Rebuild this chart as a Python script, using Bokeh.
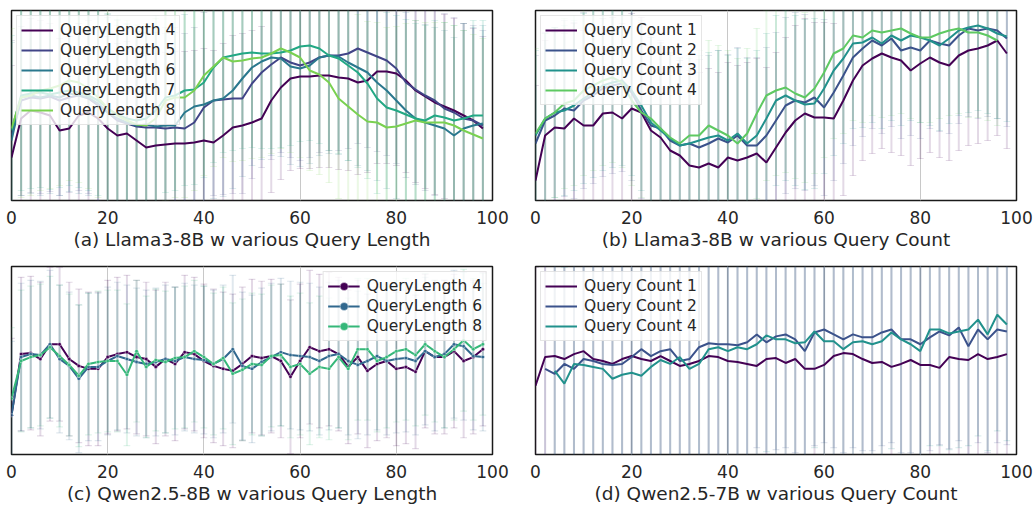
import numpy as np
from bokeh.plotting import figure
from bokeh.layouts import column, row
from bokeh.models import Range1d, FixedTicker, Legend, LegendItem, ColumnDataSource
from bokeh.embed import file_html
from bokeh.resources import INLINE

nan = float("nan")
steps = list(range(0, 100, 2))
x_ticks = [0, 20, 40, 60, 80, 100]

# ---------------- (a) Llama3-8B, query length ----------------
a_labels = ["QueryLength 4", "QueryLength 5", "QueryLength 6", "QueryLength 7", "QueryLength 8"]
a_ql4 = [43, 82, 90, 88, 85, 70, 72, 85, 88, 82, 72, 65, 67, 60, 53, 55, 56, 57, 57, 58,
         60, 58, 65, 73, 75, 78, 82, 100, 113, 122, 124, 124, 125, 125, 123, 122, 118, 120, 129, 129,
         127, 120, 110, 104, 98, 94, 90, 85, 80, 72]
a_ql5 = [65, 100, 103, 102, 104, 100, 103, 105, 102, 95, 88, 80, 77, 74, 73, 73, 72, 73, 72, 78,
         93, 100, 101, 102, 102, 117, 128, 136, 143, 138, 135, 138, 143, 145, 145, 147, 152, 148, 144, 140,
         132, 118, 111, 105, 100, 92, 88, 82, 80, 75]
a_ql6 = [60, 103, 105, 103, 105, 103, 107, 105, 103, 97, 88, 82, 78, 75, 76, 74, 75, 75, 88, 94,
         96, 100, 102, 110, 122, 133, 139, 143, 142, 134, 132, 135, 143, 145, 144, 138, 133, 128, 118, 110,
         100, 90, 82, 78, 75, 72, 65, 72, 75, 77]
a_ql7 = [70, 105, 107, 108, 106, 108, 110, 108, 105, 100, 92, 86, 82, 80, 82, 90, 103, 105, 110, 111,
         118, 133, 143, 145, 147, 148, 147, 147, 148, 150, 154, 155, 152, 145, 142, 135, 128, 117, 102, 93,
         90, 86, 82, 80, 85, 83, 80, 82, 85, 85]
a_ql8 = [72, 103, 105, 110, 112, 115, 120, 118, 112, 103, 92, 85, 80, 76, 75, 82, 100, 103, 103, 110,
         125, 134, 143, 139, 140, 142, 143, 147, 152, 148, 143, 130, 126, 118, 102, 94, 86, 79, 78, 73,
         74, 77, 80, 78, 78, 78, 75, 70, 66, 62]
a_err = [92, 95, 98, 95, 100]

# ---------------- (b) Llama3-8B, query count ----------------
b_labels = ["Query Count 1", "Query Count 2", "Query Count 3", "Query Count 4"]
b_qc1 = [20, 65, 73, 72, 82, 75, 75, 87, 88, 82, 92, 88, 70, 63, 50, 45, 35, 33, 37, 33,
         43, 40, 43, 47, 38, 53, 68, 80, 87, 83, 83, 82, 100, 120, 135, 142, 147, 143, 140, 130,
         137, 143, 138, 135, 145, 150, 152, 155, 160, 147]
b_qc2 = [57, 80, 85, 92, 90, 100, 105, 112, 115, 117, 108, 90, 75, 72, 60, 55, 57, 53, 57, 62,
         58, 65, 55, 55, 65, 80, 95, 100, 98, 103, 93, 108, 125, 143, 152, 160, 155, 162, 150, 153,
         150, 160, 157, 155, 165, 172, 170, 172, 170, 162]
b_qc3 = [65, 82, 88, 90, 95, 102, 108, 115, 118, 120, 110, 95, 78, 70, 62, 55, 57, 60, 63, 65,
         60, 67, 57, 65, 82, 100, 105, 100, 96, 97, 112, 130, 142, 157, 158, 163, 157, 165, 160, 165,
         163, 160, 155, 162, 170, 173, 175, 172, 167, 164]
b_qc4 = [67, 82, 88, 97, 100, 110, 115, 120, 123, 118, 100, 88, 82, 72, 63, 57, 65, 65, 75, 70,
         65, 57, 67, 87, 105, 110, 113, 107, 103, 112, 128, 147, 152, 165, 163, 170, 168, 170, 172, 167,
         163, 163, 167, 170, 172, 168, 168, 165, 160, nan]
b_err = [95, 88, 85, 85]

# ---------------- (c) Qwen2.5-8B, query length ----------------
c_labels = ["QueryLength 4", "QueryLength 6", "QueryLength 8"]
c_ql4 = [40, 102, 103, 97, 112, 112, 97, 90, 87, 87, 99, 102, 104, 99, 97, 89, 97, 92, 104, 102,
         95, 90, 87, 85, 92, 100, 98, 100, 95, 79, 95, 109, 105, 107, 102, 89, 99, 85, 92, 95,
         87, 89, 84, 105, 99, 99, 105, 95, 99, 107]
c_ql6 = [40, 99, 102, 101, 112, 97, 90, 77, 89, 89, 95, 100, 97, 94, 92, 94, 97, 95, 99, 97,
         96, 92, 97, 107, 90, 87, 94, 99, 104, 101, 100, 99, 95, 100, 102, 95, 91, 95, 100, 95,
         97, 98, 95, 105, 99, 102, 112, 110, 100, 99]
c_ql8 = [57, 95, 99, 101, 109, 100, 91, 80, 92, 94, 95, 95, 81, 105, 89, 96, 94, 98, 99, 105,
         99, 92, 98, 82, 86, 92, 91, 100, 101, 89, 92, 82, 89, 87, 99, 87, 107, 107, 95, 99,
         105, 107, 101, 112, 105, 99, 107, 116, 107, 112]
c_err = [78, 75, 72]

# ---------------- (d) Qwen2.5-7B, query count ----------------
d_labels = ["Query Count 1", "Query Count 2", "Query Count 4"]
d_qc1 = [70, 99, 100, 97, 102, 105, 97, 95, 92, 97, 100, 97, 95, 100, 95, 90, 92, 95, 100, 99,
         95, 94, 92, 90, 97, 98, 93, 97, 87, 87, 91, 100, 103, 102, 97, 93, 94, 89, 92, 96,
         91, 91, 88, 99, 97, 96, 102, 97, 99, 102]
d_qc2 = [nan, 87, 82, 92, 87, 97, 95, 92, 91, 92, 99, 107, 100, 105, 107, 95, 97, 109, 113, 112,
         112, 111, 114, 122, 114, 120, 122, 117, 105, 124, 127, 122, 117, 122, 119, 119, 124, 127, 117, 117,
         112, 119, 125, 121, 129, 110, 127, 117, 127, 125]
d_qc4 = [nan, nan, 85, 72, 92, 91, 89, 87, 77, 81, 83, 80, 89, 96, 92, 99, 87, 92, 107, 109,
         105, 109, 107, 112, 121, 117, 117, 113, 114, 125, 115, 115, 107, 114, 115, 112, 115, 124, 117, 112,
         105, 127, 127, 123, 125, 127, 137, 122, 142, 132]
d_err = [120, 115, 118]

TXT = "#262626"
FONT = "DejaVu Sans"


def make_panel(series, labels, colors, errs, caption, ymax, width, height,
               bl, br, bb, legend_loc, markers=False):
    p = figure(width=width, height=height, output_backend="svg", toolbar_location=None,
               x_range=Range1d(0, 100), y_range=Range1d(0, ymax),
               min_border_left=bl, min_border_right=br, min_border_top=10,
               min_border_bottom=bb)
    p.outline_line_color = "#1a1a1a"
    p.outline_line_width = 1.5
    p.yaxis.visible = False
    p.ygrid.grid_line_color = None
    p.xgrid.grid_line_color = "#c8c8c8"
    p.xgrid.grid_line_width = 1
    ax = p.xaxis[0]
    ax.ticker = FixedTicker(ticks=x_ticks)
    ax.axis_line_color = None
    ax.major_tick_line_color = None
    ax.minor_tick_line_color = None
    ax.major_label_text_font = FONT
    ax.major_label_text_font_size = "17px"
    ax.major_label_text_color = TXT
    ax.major_label_standoff = 4
    ax.axis_label = caption
    ax.axis_label_text_font = FONT
    ax.axis_label_text_font_size = "18.5px"
    ax.axis_label_text_font_style = "normal"
    ax.axis_label_text_color = TXT
    ax.axis_label_standoff = 2

    xs = np.array(steps, dtype=float)
    # error bars first
    for vals, col, e in zip(series, colors, errs):
        v = np.array(vals, dtype=float)
        lo = v - e
        hi = v + e
        src = ColumnDataSource(dict(x=xs, lo=lo, hi=hi, xl=xs - 0.7, xr=xs + 0.7))
        p.segment(x0="x", y0="lo", x1="x", y1="hi", source=src, line_color=col,
                  line_alpha=0.15, line_width=2)
        p.segment(x0="xl", y0="lo", x1="xr", y1="lo", source=src, line_color=col,
                  line_alpha=0.15, line_width=1.2)
        p.segment(x0="xl", y0="hi", x1="xr", y1="hi", source=src, line_color=col,
                  line_alpha=0.15, line_width=1.2)
    items = []
    for vals, col, lab in zip(series, colors, labels):
        src = ColumnDataSource(dict(x=xs, y=np.array(vals, dtype=float)))
        r = p.line("x", "y", source=src, line_color=col, line_width=2)
        rs = [r]
        if markers:
            m = p.scatter("x", "y", source=src, size=3.5, fill_color=col, line_color="white",
                          line_width=0.4)
            rs.append(m)
        items.append(LegendItem(label=lab, renderers=rs))
    leg = Legend(items=items, location=legend_loc)
    leg.label_text_font = FONT
    leg.label_text_font_size = "15.5px"
    leg.label_text_color = TXT
    leg.glyph_width = 32
    leg.glyph_height = 20
    leg.label_height = 20
    leg.label_standoff = 7
    leg.spacing = 0
    leg.padding = 4
    leg.margin = 5
    leg.border_line_color = "#cccccc"
    leg.border_line_width = 1
    leg.background_fill_alpha = 0.8
    p.add_layout(leg)
    return p


pa = make_panel([a_ql4, a_ql5, a_ql6, a_ql7, a_ql8], a_labels,
                ["#440154", "#414487", "#2a788e", "#22a884", "#7ad151"], a_err,
                "(a) Llama3-8B w various Query Length", 190, 518, 256, 11, 26, 56, "top_left")
pb = make_panel([b_qc1, b_qc2, b_qc3, b_qc4], b_labels,
                ["#440154", "#3b528b", "#21918c", "#5ec962"], b_err,
                "(b) Llama3-8B w various Query Count", 190, 518, 256, 17, 20, 56, "top_left")
pc = make_panel([c_ql4, c_ql6, c_ql8], c_labels,
                ["#440154", "#31688e", "#35b779"], c_err,
                "(c) Qwen2.5-8B w various Query Length", 191, 518, 250, 11, 26, 49, "top_right",
                markers=True)
pd = make_panel([d_qc1, d_qc2, d_qc4], d_labels,
                ["#440154", "#3b528b", "#21918c"], d_err,
                "(d) Qwen2.5-7B w various Query Count", 191, 518, 250, 17, 20, 49, "top_left")

layout = column(row(pa, pb), row(pc, pd))
open("out.html", "w").write(file_html(layout, INLINE))
